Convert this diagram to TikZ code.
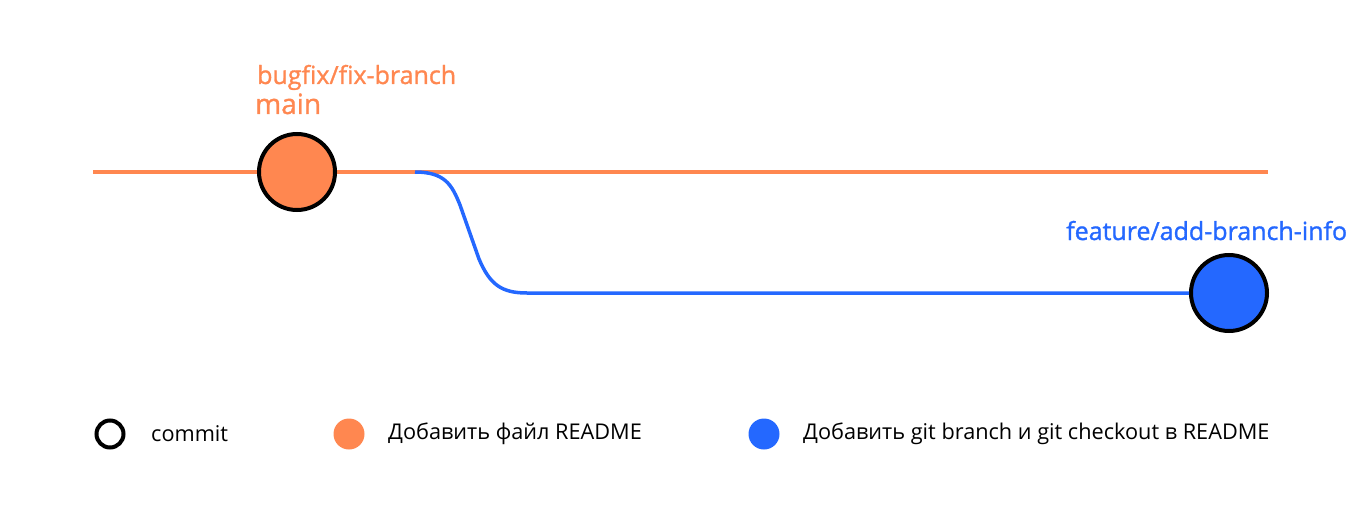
\documentclass[tikz,border=0pt]{standalone}
\usepackage{fontspec}
\setmainfont{Open Sans}
\newfontfamily\labelfont[FakeBold=1.2]{Open Sans}
\definecolor{gorange}{HTML}{FF8750}
\definecolor{gblue}{HTML}{2468FF}
\tikzset{
  commitnode/.style={circle, draw=black, line width=4pt, minimum size=76pt, inner sep=0pt},
  branchline/.style={line width=4pt},
  branchlabel/.style={font=\labelfont\fontsize{25}{29}\selectfont, inner sep=0pt, anchor=base west},
  legendtext/.style={font=\fontsize{21.7}{26}\selectfont, inner sep=0pt, anchor=west, text=black},
  legenddot/.style={circle, minimum size=31pt, inner sep=0pt},
}
\begin{document}
\begin{tikzpicture}[x=1pt,y=-1pt]
\useasboundingbox (0,0) rectangle (1368,524);
% main line
\coordinate (mstart) at (93,172);
\coordinate (mend) at (1268,172);
\coordinate (fork) at (415,172);
\draw[branchline, gorange] (mstart) -- (mend);
% feature branch
\node[commitnode, fill=gblue] (c2) at (1229,293) {};
\draw[branchline, line width=3.5pt, gblue] (fork) .. controls (445,172) and (452,185) .. (460,205) -- (479,259) .. controls (490,285) and (502,293) .. (527,293) -- (c2.west);
\node[commitnode, fill=gorange] (c1) at (297,172) {};
% labels
\node[branchlabel, text=gorange] (lbug) at (257,84) {bugfix/fix-branch};
\node[branchlabel, text=gorange, font=\labelfont\fontsize{28}{32}\selectfont] (lmain) at (255,114) {main};
\node[branchlabel, text=gblue] (lfeat) at (1066,240) {feature/add-branch-info};
% legend
\node[legenddot, draw=black, line width=4pt, minimum size=27pt] (lg1) at (110,434) {};
\node[legendtext] (lt1) at (151,434) {commit};
\node[legenddot, fill=gorange] (lg2) at (349,434) {};
\node[legendtext] (lt2) at (388,434) {Добавить файл README};
\node[legenddot, fill=gblue] (lg3) at (764,434) {};
\node[legendtext] (lt3) at (803,434) {Добавить git branch и git checkout в README};
\end{tikzpicture}
\end{document}
